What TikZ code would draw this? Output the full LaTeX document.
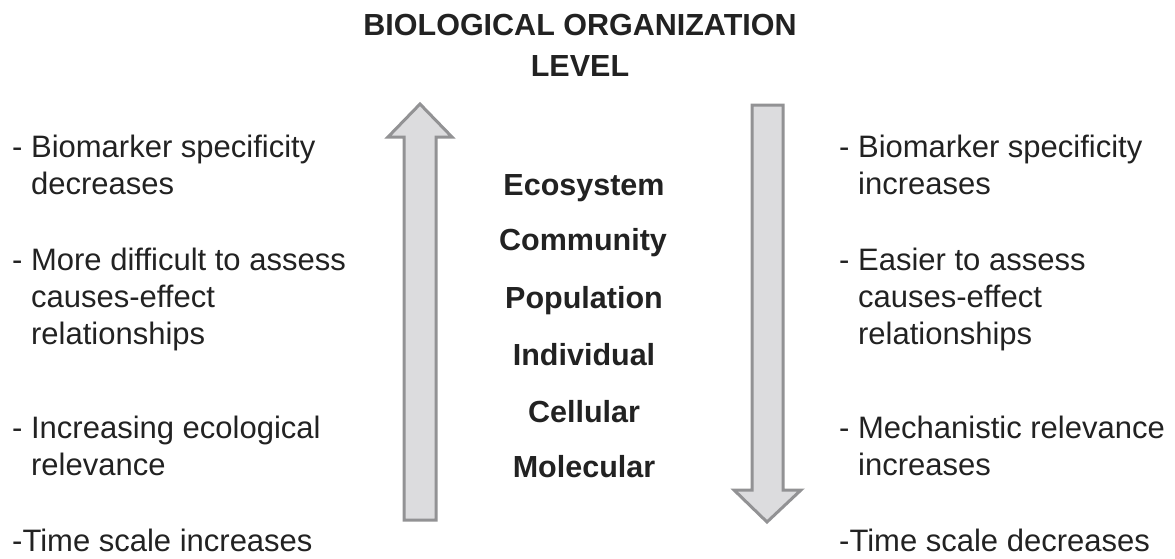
\documentclass[tikz,border=0pt]{standalone}
\usepackage{fontspec}
\setmainfont{Liberation Sans}
\definecolor{arrfill}{HTML}{DCDCDE}
\definecolor{arrline}{HTML}{929294}
\definecolor{txt}{HTML}{222222}
\begin{document}
\begin{tikzpicture}[x=1pt,y=-1pt,
  bigarrow/.style={fill=arrfill,draw=arrline,line width=3pt,line join=miter},
  title/.style={font=\fontsize{30.5}{40}\selectfont\bfseries,text=txt,inner sep=0pt,anchor=base},
  level/.style={font=\fontsize{30.5}{34}\selectfont\bfseries,text=txt,inner sep=0pt,anchor=base},
  note/.style={font=\fontsize{31}{37}\selectfont,text=txt,inner sep=0pt,align=left,anchor=base west}]
\useasboundingbox (0,0) rectangle (1175,558);
% title
\node[title] (t1) at (580,35) {BIOLOGICAL ORGANIZATION};
\node[title] (t2) at (580,76) {LEVEL};
% arrows
\draw[bigarrow] (420,104) -- (452,137) -- (436,137) -- (436,520) -- (404,520) -- (404,137) -- (388,137) -- cycle;
\draw[bigarrow] (752,105) -- (783,105) -- (783,490) -- (801,490) -- (767,522) -- (734,490) -- (752,490) -- cycle;
% levels
\node[level] (eco) at (584,195) {Ecosystem};
\node[level] (com) at (583,250) {Community};
\node[level] (pop) at (584,308) {Population};
\node[level] (ind) at (584,365) {Individual};
\node[level] (cel) at (584,422) {Cellular};
\node[level] (mol) at (584,477) {Molecular};
% left notes (anchor = baseline of last line)
\node[note] (l1) at (12,194) {- Biomarker specificity\\\phantom{- }decreases};
\node[note] (l2) at (12,344) {- More difficult to assess\\\phantom{- }causes-effect\\\phantom{- }relationships};
\node[note] (l3) at (12,475) {- Increasing ecological\\\phantom{- }relevance};
\node[note] (l4) at (12,551) {-Time scale increases};
% right notes
\node[note] (r1) at (839,194) {- Biomarker specificity\\\phantom{- }increases};
\node[note] (r2) at (839,344) {- Easier to assess\\\phantom{- }causes-effect\\\phantom{- }relationships};
\node[note] (r3) at (839,475) {- Mechanistic relevance\\\phantom{- }increases};
\node[note] (r4) at (839,551) {-Time scale decreases};
\end{tikzpicture}
\end{document}
